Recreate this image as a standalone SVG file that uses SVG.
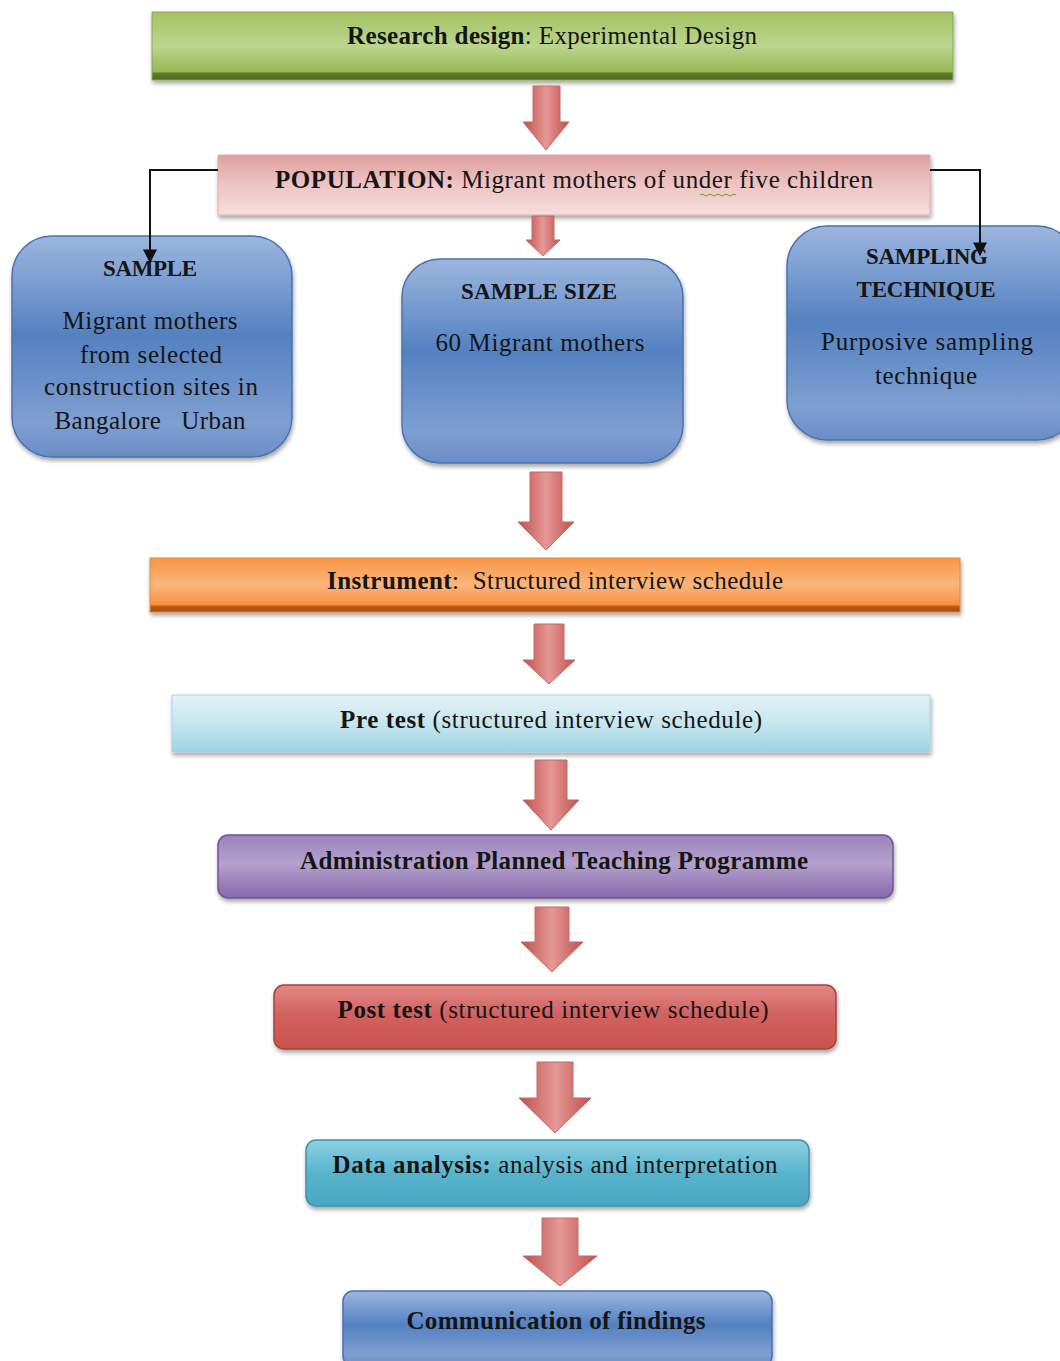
<svg xmlns="http://www.w3.org/2000/svg" width="1060" height="1361" viewBox="0 0 1060 1361">
<style>
text{font-family:"Liberation Serif","Times New Roman",serif;font-size:25px;fill:#151515;text-anchor:middle}
.b{font-weight:bold}
.s{font-size:25px}
.h{font-size:23px;font-weight:bold}
.conn{fill:none;stroke:#111;stroke-width:2}
.arr{fill:url(#gArrow);stroke:#c46a68;stroke-width:1}
</style>
<defs>
<filter id="sh" x="-5%" y="-10%" width="110%" height="130%"><feDropShadow dx="1" dy="3" stdDeviation="2" flood-color="#000" flood-opacity="0.35"/></filter>
<marker id="ah" viewBox="0 0 10 10" refX="9" refY="5" markerWidth="7" markerHeight="7" orient="auto"><path d="M0,0 L10,5 L0,10 z" fill="#111"/></marker>
<linearGradient id="gArrow" x1="0" y1="0" x2="1" y2="0"><stop offset="0" stop-color="#c0504d"/><stop offset="0.5" stop-color="#e59896"/><stop offset="1" stop-color="#c0504d"/></linearGradient>
<linearGradient id="gGreen" x1="0" y1="0" x2="0" y2="1"><stop offset="0" stop-color="#a4c363"/><stop offset="0.5" stop-color="#bcd58e"/><stop offset="0.88" stop-color="#97b855"/><stop offset="0.9" stop-color="#5d7c2c"/><stop offset="1" stop-color="#4f6a24"/></linearGradient>
<linearGradient id="gPink" x1="0" y1="0" x2="0" y2="1"><stop offset="0" stop-color="#de9f9d"/><stop offset="0.5" stop-color="#eec5c4"/><stop offset="1" stop-color="#f5dedd"/></linearGradient>
<linearGradient id="gBlue" x1="0" y1="0" x2="0" y2="1"><stop offset="0" stop-color="#9cb6de"/><stop offset="0.45" stop-color="#5481c1"/><stop offset="0.85" stop-color="#7f9fd1"/><stop offset="1" stop-color="#6a8cc6"/></linearGradient>
<linearGradient id="gOrange" x1="0" y1="0" x2="0" y2="1"><stop offset="0" stop-color="#f79646"/><stop offset="0.5" stop-color="#fbb57c"/><stop offset="0.86" stop-color="#f6913f"/><stop offset="0.9" stop-color="#b85a14"/><stop offset="1" stop-color="#a04d10"/></linearGradient>
<linearGradient id="gCyanL" x1="0" y1="0" x2="0" y2="1"><stop offset="0" stop-color="#e3f3f7"/><stop offset="0.5" stop-color="#c6e6ef"/><stop offset="1" stop-color="#9ed2e1"/></linearGradient>
<linearGradient id="gPurple" x1="0" y1="0" x2="0" y2="1"><stop offset="0" stop-color="#9a83ba"/><stop offset="0.45" stop-color="#b4a1cd"/><stop offset="1" stop-color="#8668ab"/></linearGradient>
<linearGradient id="gRed" x1="0" y1="0" x2="0" y2="1"><stop offset="0" stop-color="#e28886"/><stop offset="0.45" stop-color="#d26260"/><stop offset="1" stop-color="#c9524f"/></linearGradient>
<linearGradient id="gTeal" x1="0" y1="0" x2="0" y2="1"><stop offset="0" stop-color="#8fd0e2"/><stop offset="0.5" stop-color="#58b4cd"/><stop offset="1" stop-color="#4aa6c0"/></linearGradient>
</defs>
<rect width="1060" height="1361" fill="#fff"/>

<g id="research-design">
<rect x="152" y="12" width="801" height="68" fill="url(#gGreen)" stroke="#8aa84e" stroke-width="1" filter="url(#sh)"/>
<text x="552" y="44" textLength="410"><tspan class="b">Research design</tspan>: Experimental Design</text>
</g>

<g id="population">
<rect x="218" y="155" width="712" height="60" fill="url(#gPink)" stroke="#e2a9a8" stroke-width="1" filter="url(#sh)"/>
<text x="574" y="188" textLength="598"><tspan class="b">POPULATION:</tspan> Migrant mothers of under five children</text>
<path d="M700,195 q2,-2 4,0 t4,0 t4,0 t4,0 t4,0 t4,0 t4,0 t4,0 t4,0" fill="none" stroke="#5aa02c" stroke-width="1"/>
</g>

<g id="sample">
<rect x="12" y="236" width="280" height="221" rx="40" fill="url(#gBlue)" stroke="#4a72b0" stroke-width="1.5" filter="url(#sh)"/>
<text x="150" y="276" class="h" textLength="94">SAMPLE</text>
<text x="150" y="329" class="s" textLength="175">Migrant mothers</text>
<text x="151" y="363" class="s" textLength="142">from selected</text>
<text x="151" y="395" class="s" textLength="214">construction sites in</text>
<text x="150" y="429" class="s" textLength="191" xml:space="preserve">Bangalore   Urban</text>
</g>

<g id="sample-size">
<rect x="402" y="259" width="281" height="204" rx="38" fill="url(#gBlue)" stroke="#4a72b0" stroke-width="1.5" filter="url(#sh)"/>
<text x="539" y="299" class="h" textLength="156">SAMPLE SIZE</text>
<text x="540" y="351" class="s" textLength="209">60 Migrant mothers</text>
</g>

<g id="sampling-technique">
<rect x="787" y="226" width="290" height="214" rx="40" fill="url(#gBlue)" stroke="#4a72b0" stroke-width="1.5" filter="url(#sh)"/>
<text x="927" y="264" class="h" textLength="122">SAMPLING</text>
<text x="926" y="297" class="h" textLength="139">TECHNIQUE</text>
<text x="927" y="350" class="s" textLength="212">Purposive sampling</text>
<text x="926" y="384" class="s" textLength="102">technique</text>
</g>

<g id="instrument">
<rect x="150" y="558" width="810" height="54" fill="url(#gOrange)" stroke="#e08a40" stroke-width="1" filter="url(#sh)"/>
<text x="555" y="589" textLength="456" xml:space="preserve"><tspan class="b">Instrument</tspan>:  Structured interview schedule</text>
</g>

<g id="pre-test">
<rect x="172" y="695" width="758" height="57" fill="url(#gCyanL)" stroke="#a8d6e3" stroke-width="1" filter="url(#sh)"/>
<text x="551" y="728" textLength="422"><tspan class="b">Pre test</tspan> (structured interview schedule)</text>
</g>

<g id="administration">
<rect x="218" y="835" width="675" height="63" rx="10" fill="url(#gPurple)" stroke="#6e5496" stroke-width="1.5" filter="url(#sh)"/>
<text x="554" y="869" class="b" textLength="508">Administration Planned Teaching Programme</text>
</g>

<g id="post-test">
<rect x="274" y="985" width="562" height="64" rx="10" fill="url(#gRed)" stroke="#a8403d" stroke-width="1.5" filter="url(#sh)"/>
<text x="553" y="1018" textLength="431"><tspan class="b">Post test</tspan> (structured interview schedule)</text>
</g>

<g id="data-analysis">
<rect x="306" y="1140" width="503" height="66" rx="10" fill="url(#gTeal)" stroke="#3b93ab" stroke-width="1.5" filter="url(#sh)"/>
<text x="555" y="1173" textLength="445"><tspan class="b">Data analysis:</tspan> analysis and interpretation</text>
</g>

<g id="communication">
<rect x="343" y="1291" width="429" height="75" rx="10" fill="url(#gBlue)" stroke="#4a72b0" stroke-width="1.5" filter="url(#sh)"/>
<text x="556" y="1329" class="b" textLength="299">Communication of findings</text>
</g>

<g id="connectors">
<path class="arr" d="M533,86 H560 V122 H569 L546,150 L523,122 H533 Z"/>
<path class="arr" d="M532,216 H554 V240 H560 L543,256 L526,240 H532 Z"/>
<path class="arr" d="M530,472 H562 V522 H574 L546,550 L518,522 H530 Z"/>
<path class="arr" d="M534,624 H564 V660 H575 L549,684 L523,660 H534 Z"/>
<path class="arr" d="M535,760 H567 V800 H579 L551,830 L523,800 H535 Z"/>
<path class="arr" d="M535,907 H569 V942 H583 L552,972 L521,942 H535 Z"/>
<path class="arr" d="M537,1062 H573 V1098 H591 L555,1133 L519,1098 H537 Z"/>
<path class="arr" d="M542,1218 H578 V1256 H597 L560,1286 L523,1256 H542 Z"/>
<path class="conn" d="M218,170 H150 V262" marker-end="url(#ah)"/>
<path class="conn" d="M930,170 H980 V255" marker-end="url(#ah)"/>
</g>
</svg>
